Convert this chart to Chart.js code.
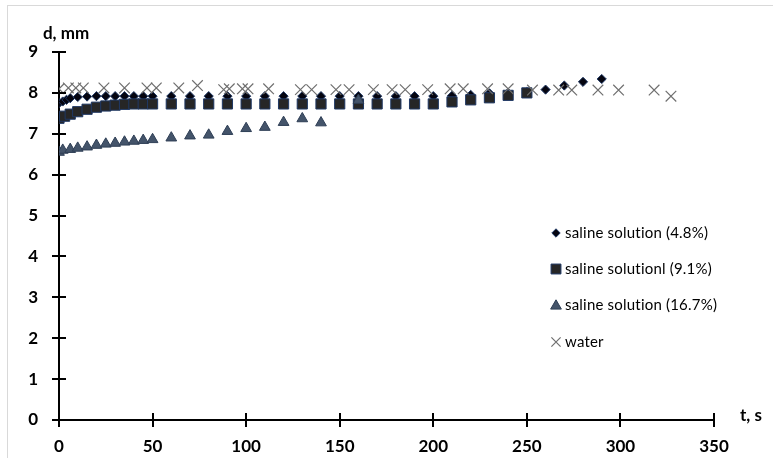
<!DOCTYPE html>
<html>
<head>
<meta charset="utf-8">
<script src="https://cdn.jsdelivr.net/npm/chart.js@4"></script>
<style>
  html, body { margin: 0; padding: 0; background: #fff; overflow: hidden; }
  #frame { position: absolute; left: 7px; top: 5px; width: 800px; height: 500px; border: 1px solid #d9d9d9; box-sizing: border-box; }
  #c { position: absolute; left: 0; top: 0; }
</style>
</head>
<body>
<div id="frame"></div>
<canvas id="c" width="773" height="458"></canvas>
<script>
// ---- data ----
const t48 = [0,2,4,6,10,15,20,25,30,35,40,45,50,60,70,80,90,100,110,120,130,140,150,160,170,180,190,200,210,220,230,240,250,260,270,280,290];
const d48 = [7.75,7.79,7.83,7.87,7.9,7.91,7.92,7.92,7.92,7.92,7.92,7.92,7.92,
             7.92,7.92,7.92,7.92,7.92,7.92,7.92,7.92,7.92,7.92,7.92,7.92,7.92,7.92,7.92,
             7.93,7.95,7.99,8.0,8.02,8.08,8.18,8.27,8.34];

const t91 = [0,3,6,10,15,20,25,30,35,40,45,50,60,70,80,90,100,110,120,130,140,150,160,170,180,190,200,210,220,230,240,250];
const d91 = [7.38,7.43,7.48,7.54,7.6,7.65,7.68,7.7,7.72,7.73,7.73,7.73,
             7.73,7.73,7.73,7.73,7.73,7.73,7.73,7.73,7.73,7.73,7.73,7.73,7.73,7.73,7.73,
             7.78,7.83,7.88,7.94,8.0];

const t167 = [0,2,6,10,15,20,25,30,35,40,45,50,60,70,80,90,100,110,120,130,140,160];
const d167 = [6.55,6.6,6.62,6.65,6.68,6.72,6.75,6.77,6.8,6.82,6.84,6.86,6.9,6.95,6.97,7.06,7.13,7.16,7.28,7.37,7.27,7.82];

const tW = [0,5,9,13,24,35,47,52,64,74,88,91,98,101,112,129,135,148,155,168,178,185,197,209,216,229,240,253,267,274,288,299,318,327];
const dW = [8.1,8.12,8.12,8.12,8.12,8.12,8.12,8.12,8.12,8.18,8.08,8.1,8.1,8.1,8.1,
            8.08,8.08,8.08,8.08,8.08,8.08,8.08,8.08,8.1,8.1,8.1,8.1,
            8.07,8.07,8.07,8.07,8.07,8.07,7.92];

const seriesLabels = ['saline solution (4.8%)', 'saline solutionl (9.1%)', 'saline solution (16.7%)', 'water'];
const xTicks = [0,50,100,150,200,250,300,350];
const yTicks = [0,1,2,3,4,5,6,7,8,9];
const xTitle = 't, s';
const yTitle = 'd, mm';

const pts = (xs, ys) => xs.map((x, i) => ({x: x, y: ys[i]}));

const FONT = 'Lato, "Open Sans", sans-serif';

const styles = [
  {pointStyle: 'rectRot', radius: 4.6, bg: '#050510', border: '#1F3864', bw: 1},
  {pointStyle: 'rect', radius: 7.2, bg: '#262626', border: '#1F3864', bw: 1},
  {pointStyle: 'triangle', radius: 6.2, bg: '#44546A', border: '#2E3E55', bw: 1},
  {pointStyle: 'crossRot', radius: 7.5, bg: '#6f6f6f', border: '#6f6f6f', bw: 1.2}
];

const dataSets = [pts(t48, d48), pts(t91, d91), pts(t167, d167), pts(tW, dW)];
const orders = [4, 3, 2, 1];

const datasets = dataSets.map((d, i) => ({
  label: seriesLabels[i],
  data: d,
  order: orders[i],
  showLine: false,
  pointStyle: styles[i].pointStyle,
  pointRadius: styles[i].radius,
  pointHoverRadius: styles[i].radius,
  pointBackgroundColor: styles[i].bg,
  pointBorderColor: styles[i].border,
  pointBorderWidth: styles[i].bw
}));

function drawMarker(ctx, style, x, y, r) {
  ctx.save();
  ctx.fillStyle = style.bg;
  ctx.strokeStyle = style.border;
  ctx.lineWidth = style.bw;
  ctx.beginPath();
  if (style.pointStyle === 'rectRot') {
    ctx.moveTo(x - r, y); ctx.lineTo(x, y - r); ctx.lineTo(x + r, y); ctx.lineTo(x, y + r); ctx.closePath();
    ctx.fill(); ctx.stroke();
  } else if (style.pointStyle === 'rect') {
    const s = r * Math.SQRT1_2;
    ctx.rect(x - s, y - s, 2 * s, 2 * s); ctx.fill(); ctx.stroke();
  } else if (style.pointStyle === 'triangle') {
    ctx.moveTo(x, y - r);
    ctx.lineTo(x + Math.sin(2 * Math.PI / 3) * r, y - Math.cos(2 * Math.PI / 3) * r);
    ctx.lineTo(x + Math.sin(4 * Math.PI / 3) * r, y - Math.cos(4 * Math.PI / 3) * r);
    ctx.closePath(); ctx.fill(); ctx.stroke();
  } else {
    const o = r * Math.SQRT1_2;
    ctx.moveTo(x - o, y - o); ctx.lineTo(x + o, y + o);
    ctx.moveTo(x + o, y - o); ctx.lineTo(x - o, y + o);
    ctx.stroke();
  }
  ctx.restore();
}

const decorPlugin = {
  id: 'decor',
  afterDraw(chart) {
    const ctx = chart.ctx;
    const xs = chart.scales.x, ys = chart.scales.y;
    ctx.save();
    ctx.strokeStyle = '#000';
    ctx.lineWidth = 2;
    // cross tick marks
    const x0 = xs.getPixelForValue(0);
    yTicks.forEach(v => {
      const py = Math.round(ys.getPixelForValue(v));
      ctx.beginPath(); ctx.moveTo(x0 - 7, py); ctx.lineTo(x0 + 7, py); ctx.stroke();
    });
    const y0 = ys.getPixelForValue(0);
    xTicks.forEach(v => {
      const px = Math.round(xs.getPixelForValue(v));
      ctx.beginPath(); ctx.moveTo(px, y0 - 7); ctx.lineTo(px, y0 + 7); ctx.stroke();
    });
    // axis titles
    ctx.fillStyle = '#000';
    ctx.font = 'bold 17px ' + FONT;
    ctx.textBaseline = 'middle';
    ctx.textAlign = 'center';
    ctx.fillText(yTitle, 66, 34);
    ctx.textAlign = 'left';
    ctx.fillText(xTitle, 740, 416);
    // legend
    const legY = [233, 269, 305, 342];
    ctx.font = '15px ' + FONT;
    if ('letterSpacing' in ctx) ctx.letterSpacing = '0.2px';
    seriesLabels.forEach((lab, i) => {
      const st = styles[i];
      const r = [4.2, 7, 6.2, 6.5][i];
      drawMarker(ctx, st, 556, legY[i] + (i === 2 ? 1 : 0), r);
      ctx.fillStyle = '#000';
      ctx.textAlign = 'left';
      ctx.textBaseline = 'middle';
      ctx.fillText(lab, 565, legY[i]);
    });
    ctx.restore();
  }
};

new Chart(document.getElementById('c'), {
  type: 'scatter',
  data: { datasets: datasets },
  options: {
    responsive: false,
    animation: false,
    devicePixelRatio: 1,
    layout: { padding: { left: 0, top: 52, right: 59, bottom: 0 } },
    plugins: { legend: { display: false }, tooltip: { enabled: false } },
    scales: {
      x: {
        type: 'linear', min: 0, max: 350,
        afterBuildTicks: s => { s.ticks = xTicks.map(v => ({value: v})); },
        afterFit: s => { s.height = 38; },
        grid: { display: true, drawOnChartArea: false, drawTicks: false },
        border: { display: true, color: '#000', width: 2 },
        ticks: { padding: 16, color: '#000', font: { family: FONT, size: 17, weight: 'bold' } }
      },
      y: {
        type: 'linear', min: 0, max: 9,
        afterBuildTicks: s => { s.ticks = yTicks.map(v => ({value: v})); },
        afterFit: s => { s.width = 59; },
        grid: { display: true, drawOnChartArea: false, drawTicks: false },
        border: { display: true, color: '#000', width: 2 },
        ticks: { padding: 21, color: '#000', font: { family: FONT, size: 17, weight: 'bold' } }
      }
    }
  },
  plugins: [decorPlugin]
});
</script>
</body>
</html>
